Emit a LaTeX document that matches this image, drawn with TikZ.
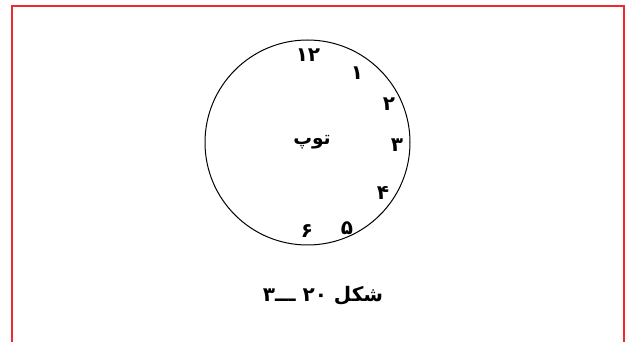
\documentclass[tikz,border=0pt]{standalone}
\usepackage{fontspec}
\newfontfamily\arabicfont[Script=Arabic]{DejaVu Sans}
\TeXXeTstate=1
\definecolor{framered}{HTML}{EE2A2E}
\usetikzlibrary{positioning}

\begin{document}
\begin{tikzpicture}[x=0.75pt, y=-0.75pt,
  hour/.style={font=\arabicfont\bfseries\fontsize{15}{18}\selectfont, inner sep=0pt},
  word/.style={font=\arabicfont\bfseries\fontsize{14}{17}\selectfont, inner sep=0pt},
  caption/.style={font=\arabicfont\bfseries\fontsize{15}{18}\selectfont, inner sep=0pt}
]
\useasboundingbox (0,0) rectangle (626,342);
\draw[framered, line width=1.5pt] (12,343) -- (12,6) -- (624,6) -- (624,343);

\coordinate (ball) at (307.5,142.5);
\draw[line width=0.75pt] (ball) circle[radius=102.5];

\node[hour] (h12) at (308,55) {۱۲};
\node[hour] (h1) at (357,73) {۱};
\node[hour] (h2) at (389,104) {۲};
\node[hour] (h3) at (397,145) {۳};
\node[hour] (h4) at (383,193) {۴};
\node[hour] (h5) at (347,228) {۵};
\node[hour] (h6) at (307,231) {۶};

\node[word] (ballname) at (312,142) {\beginR توپ\endR};

\node[caption] (figcap) at (323,296) {\beginR شکل \beginL۲۰\endL{} ـــ۳\endR};
\end{tikzpicture}
\end{document}
